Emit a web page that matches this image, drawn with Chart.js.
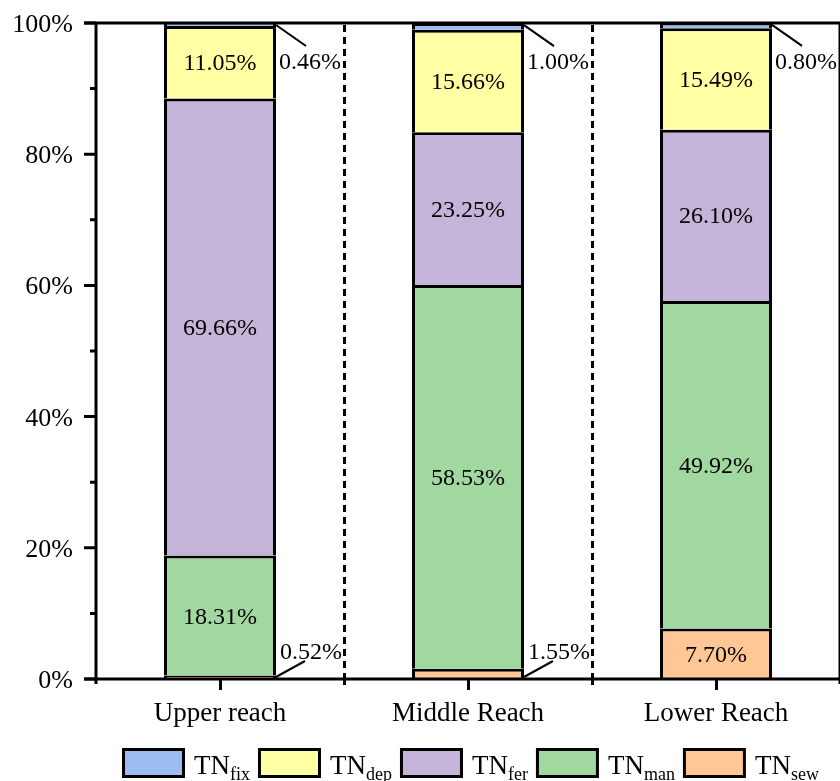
<!DOCTYPE html>
<html>
<head>
<meta charset="utf-8">
<script src="https://cdn.jsdelivr.net/npm/chart.js@4/dist/chart.umd.min.js"></script>
<style>
  html, body { margin: 0; padding: 0; background: #fff; }
  #wrap { width: 840px; height: 781px; position: relative; }
</style>
</head>
<body>
<div id="wrap"><canvas id="c" width="840" height="781"></canvas></div>
<script>
// Reaches along the river
const categories = ['Upper reach', 'Middle Reach', 'Lower Reach'];

// Share of total nitrogen load by source (%), bottom to top of each stack
const tnSew = [0.52, 1.55, 7.70];
const tnMan = [18.31, 58.53, 49.92];
const tnFer = [69.66, 23.25, 26.10];
const tnDep = [11.05, 15.66, 15.49];
const tnFix = [0.46, 1.00, 0.80];

// Source subscripts (legend order) and y tick values
const legendSubs = ['fix', 'dep', 'fer', 'man', 'sew'];
const yTicks = [0, 20, 40, 60, 80, 100];
const yMinor = [10, 30, 50, 70, 90];

const COLORS = {
  fix: '#9dbcf0',
  dep: '#ffffa3',
  fer: '#c4b4d9',
  man: '#a1d89f',
  sew: '#ffc796'
};

const SERIF = '"Liberation Serif", "Times New Roman", serif';
const SMALL_CUTOFF = 2; // values below this get a leader line label

function ds(sub, data) {
  return {
    label: 'TN' + sub,
    sub: sub,
    data: data,
    backgroundColor: COLORS[sub],
    borderColor: '#000',
    borderWidth: 3,
    borderSkipped: 'start'
  };
}

const decor = {
  id: 'decor',
  afterDraw(chart) {
    const ctx = chart.ctx;
    const area = chart.chartArea;
    const xs = chart.scales.x;
    const ys = chart.scales.y;
    ctx.save();

    // dashed separators between reaches
    ctx.strokeStyle = '#000';
    ctx.lineWidth = 3;
    ctx.setLineDash([7, 5]);
    for (let i = 0; i < categories.length - 1; i++) {
      const x = Math.round((xs.getPixelForValue(i) + xs.getPixelForValue(i + 1)) / 2) + 0.5;
      ctx.beginPath();
      ctx.moveTo(x, area.top + 2);
      ctx.lineTo(x, area.bottom);
      ctx.stroke();
    }
    ctx.setLineDash([]);

    // axes frame
    const y0 = ys.getPixelForValue(0);
    const y100 = ys.getPixelForValue(100);
    ctx.lineWidth = 3;
    ctx.beginPath();
    ctx.moveTo(area.left - 12, y0); ctx.lineTo(area.right, y0);
    ctx.moveTo(area.left - 12, y100); ctx.lineTo(area.right, y100);
    ctx.moveTo(area.left, y100); ctx.lineTo(area.left, y0 + 5);
    ctx.moveTo(area.right, y100); ctx.lineTo(area.right, y0 + 5);
    ctx.stroke();

    // y ticks: major and minor
    ctx.beginPath();
    yTicks.forEach(v => {
      const y = ys.getPixelForValue(v);
      ctx.moveTo(area.left - 12, y); ctx.lineTo(area.left, y);
    });
    yMinor.forEach(v => {
      const y = ys.getPixelForValue(v);
      ctx.moveTo(area.left - 6, y); ctx.lineTo(area.left, y);
    });
    // x ticks: centres (long) and boundaries (short)
    categories.forEach((c, i) => {
      const x = Math.round(xs.getPixelForValue(i)) + 0.5;
      ctx.moveTo(x, y0); ctx.lineTo(x, y0 + 11);
      if (i < categories.length - 1) {
        const xb = Math.round((xs.getPixelForValue(i) + xs.getPixelForValue(i + 1)) / 2) + 0.5;
        ctx.moveTo(xb, y0); ctx.lineTo(xb, y0 + 6);
      }
    });
    ctx.stroke();

    // y tick labels
    ctx.fillStyle = '#000';
    ctx.font = '26px ' + SERIF;
    ctx.textAlign = 'right';
    ctx.textBaseline = 'alphabetic';
    yTicks.forEach(v => {
      ctx.fillText(v + '%', area.left - 23, ys.getPixelForValue(v) + 9);
    });

    // category labels
    ctx.font = '27px ' + SERIF;
    ctx.textAlign = 'center';
    categories.forEach((c, i) => {
      ctx.fillText(c, xs.getPixelForValue(i), y0 + 42);
    });

    // value labels
    ctx.font = '24px ' + SERIF;
    ctx.lineWidth = 2;
    const nSets = chart.data.datasets.length;
    chart.data.datasets.forEach((d, di) => {
      const meta = chart.getDatasetMeta(di);
      meta.data.forEach((el, j) => {
        const v = d.data[j];
        const txt = v.toFixed(2) + '%';
        const right = el.x + el.width / 2;
        if (v >= SMALL_CUTOFF) {
          ctx.textAlign = 'center';
          ctx.fillText(txt, el.x, (el.y + el.base) / 2 + 8);
        } else if (di === nSets - 1) {
          // topmost slice: leader down and to the right
          ctx.beginPath();
          ctx.moveTo(right, el.y + 2);
          ctx.lineTo(right + 30, el.y + 23);
          ctx.stroke();
          ctx.textAlign = 'left';
          ctx.fillText(txt, right + 3, el.y + 46);
        } else {
          // bottom slice: leader up and to the right
          ctx.beginPath();
          ctx.moveTo(right, el.base - 2);
          ctx.lineTo(right + 29, el.base - 18);
          ctx.stroke();
          ctx.textAlign = 'left';
          ctx.fillText(txt, right + 4, el.base - 20);
        }
      });
    });

    // legend with subscripted source names
    let x = 122;
    const boxTop = 748, boxW = 63, boxH = 30;
    legendSubs.forEach(sub => {
      ctx.fillStyle = COLORS[sub];
      ctx.fillRect(x + 1.5, boxTop + 1.5, boxW - 3, boxH - 3);
      ctx.strokeStyle = '#000';
      ctx.lineWidth = 3;
      ctx.strokeRect(x + 1.5, boxTop + 1.5, boxW - 3, boxH - 3);
      ctx.fillStyle = '#000';
      ctx.textAlign = 'left';
      let tx = x + boxW + 9;
      ctx.font = '27px ' + SERIF;
      ctx.fillText('TN', tx, 774);
      tx += ctx.measureText('TN').width;
      ctx.font = '18px ' + SERIF;
      ctx.fillText(sub, tx, 780);
      tx += ctx.measureText(sub).width;
      x = tx + 8;
    });

    ctx.restore();
  }
};

new Chart(document.getElementById('c'), {
  type: 'bar',
  data: {
    labels: categories,
    datasets: [
      ds('sew', tnSew),
      ds('man', tnMan),
      ds('fer', tnFer),
      ds('dep', tnDep),
      ds('fix', tnFix)
    ]
  },
  options: {
    responsive: false,
    animation: false,
    devicePixelRatio: 1,
    layout: { padding: { left: 96, right: 0, top: 23, bottom: 102 } },
    datasets: { bar: { categoryPercentage: 1, barPercentage: 0.4516 } },
    scales: {
      x: { display: false, stacked: true },
      y: { display: false, stacked: true, min: 0, max: 100 }
    },
    plugins: { legend: { display: false }, tooltip: { enabled: false } }
  },
  plugins: [decor]
});
</script>
</body>
</html>
